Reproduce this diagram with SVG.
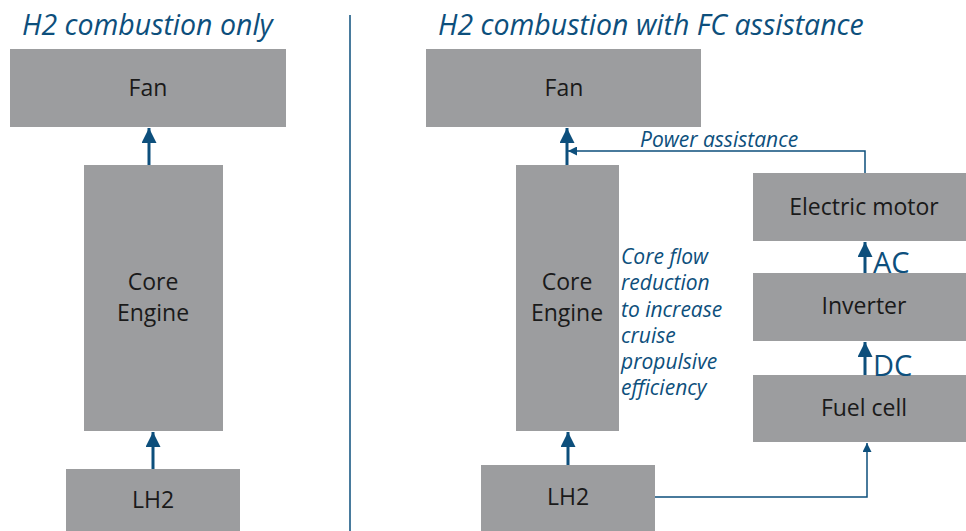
<svg xmlns="http://www.w3.org/2000/svg" width="966" height="531" viewBox="0 0 966 531">
<defs>
<style>
.box{fill:#9c9d9f}
.lbl{font-family:"Open Sans",sans-serif;font-size:23px;fill:#1a1a1a;text-anchor:middle}
.title{font-family:"Open Sans",sans-serif;font-size:28.5px;font-style:italic;fill:#0d4f7c}
.note{font-family:"Open Sans",sans-serif;font-size:21px;font-style:italic;fill:#0d4f7c}
.big{font-family:"Open Sans",sans-serif;font-size:29px;fill:#0d4f7c}
.thick{stroke:#0d4f7c;stroke-width:3;fill:none}
.thin{stroke:#0d4f7c;stroke-width:1.5;fill:none}
</style>
<marker id="ah" viewBox="0 0 10 10" refX="10" refY="5" markerWidth="5" markerHeight="5" orient="auto" markerUnits="strokeWidth"><path d="M0,0 L10,5 L0,10 Z" fill="#0d4f7c"/></marker>
<marker id="ahs" viewBox="0 0 10 10" refX="10" refY="5" markerWidth="8" markerHeight="6" orient="auto" markerUnits="strokeWidth"><path d="M0,0 L10,5 L0,10 Z" fill="#0d4f7c"/></marker>
</defs>
<text class="title" x="22" y="35">H2 combustion only</text>
<text class="title" x="438" y="35">H2 combustion with FC assistance</text>
<line x1="350" y1="15" x2="350" y2="531" stroke="#0d4f7c" stroke-width="1.5"/>
<g id="fan-left"><rect class="box" x="10" y="49" width="276" height="78"/><text class="lbl" x="148" y="96">Fan</text></g>
<g id="core-left"><rect class="box" x="84" y="165" width="139" height="266"/><text class="lbl" x="153" y="290">Core</text><text class="lbl" x="153" y="321">Engine</text></g>
<g id="lh2-left"><rect class="box" x="66" y="469" width="174" height="62"/><text class="lbl" x="153" y="508">LH2</text></g>
<g id="fan-right"><rect class="box" x="426" y="49" width="275" height="78"/><text class="lbl" x="564" y="96">Fan</text></g>
<g id="core-right"><rect class="box" x="516" y="165" width="103" height="266"/><text class="lbl" x="567" y="290">Core</text><text class="lbl" x="567" y="321">Engine</text></g>
<g id="core-note"><text class="note" x="621" y="264">Core flow</text><text class="note" x="621" y="290">reduction</text><text class="note" x="621" y="317">to increase</text><text class="note" x="621" y="343">cruise</text><text class="note" x="621" y="369">propulsive</text><text class="note" x="621" y="395">efficiency</text></g>
<g id="lh2-right"><rect class="box" x="481" y="465" width="174" height="66"/><text class="lbl" x="568" y="505">LH2</text></g>
<g id="motor"><rect class="box" x="753" y="173" width="213" height="68"/><text class="lbl" x="864" y="215">Electric motor</text></g>
<g id="inverter"><rect class="box" x="753" y="273" width="213" height="68"/><text class="lbl" x="864" y="314">Inverter</text></g>
<g id="fuelcell"><rect class="box" x="753" y="375" width="213" height="67"/><text class="lbl" x="864" y="416">Fuel cell</text></g>
<g id="connectors">
<line class="thick" x1="149" y1="165" x2="149" y2="128" marker-end="url(#ah)"/>
<line class="thick" x1="153" y1="469" x2="153" y2="432" marker-end="url(#ah)"/>
<line class="thick" x1="567" y1="165" x2="567" y2="128" marker-end="url(#ah)"/>
<line class="thick" x1="568" y1="465" x2="568" y2="432" marker-end="url(#ah)"/>
<polyline class="thin" points="865,173 865,151 568,151" marker-end="url(#ahs)"/>
<polyline class="thin" points="655,497 867,497 867,443" marker-end="url(#ahs)"/>
<line class="thick" x1="865" y1="273" x2="865" y2="242" marker-end="url(#ah)"/>
<line class="thick" x1="865" y1="375" x2="865" y2="342" marker-end="url(#ah)"/>
</g>
<text class="note" x="640" y="147">Power assistance</text>
<text class="big" x="873" y="273">AC</text>
<text class="big" x="873" y="376">DC</text>
</svg>
